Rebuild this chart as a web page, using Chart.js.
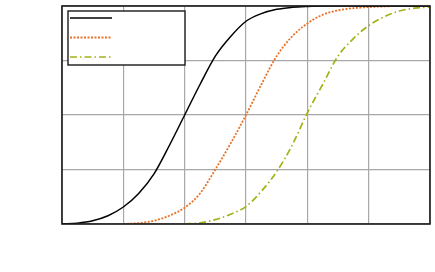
<!DOCTYPE html>
<html>
<head>
<meta charset="utf-8">
<script src="https://cdn.jsdelivr.net/npm/chart.js@4.4.1/dist/chart.umd.min.js"></script>
<style>
  html,body{margin:0;padding:0;background:#fff;}
  #wrap{width:435px;height:272px;}
</style>
</head>
<body>
<div id="wrap"><canvas id="chart" width="435" height="272"></canvas></div>
<script>
// x positions (step 0.25 from 0 to 6)
const xs = [0,0.25,0.5,0.75,1,1.25,1.5,1.75,2,2.25,2.5,2.75,3,3.25,3.5,3.75,4,4.25,4.5,4.75,5,5.25,5.5,5.75,6];

// values (null = curve not drawn there)
const blackVals  = [0,0.004,0.015,0.038,0.078,0.14,0.23,0.36,0.50,0.64,0.77,0.86,0.93,0.965,0.985,0.994,0.998,1,1,1,1,1,1,1,1];
const orangeVals = [null,null,null,null,0,0.004,0.015,0.038,0.075,0.14,0.25,0.37,0.50,0.64,0.77,0.86,0.92,0.96,0.98,0.99,0.995,0.998,1,1,1];
const greenVals  = [null,null,null,null,null,null,null,null,0,0.005,0.02,0.045,0.08,0.15,0.24,0.36,0.51,0.64,0.77,0.85,0.91,0.95,0.977,0.99,0.995];

const xTicks = [0,1,2,3,4,5,6];
const yTicks = [0,0.25,0.5,0.75,1];

function pts(vals){
  return xs.map((x,i)=> vals[i]==null ? null : { x, y: vals[i] }).filter(Boolean);
}

// frame + legend box drawn on top of the chart area
const framePlugin = {
  id: 'frame',
  afterDraw(chart){
    const { ctx, chartArea: a } = chart;
    ctx.save();
    ctx.strokeStyle = '#1a1a1a';
    ctx.lineWidth = 1.6;
    ctx.strokeRect(a.left, a.top, a.right-a.left, a.bottom-a.top);

    // legend
    const lx = a.left+6, ly = a.top+5, lw = 117, lh = 54;
    ctx.fillStyle = '#fff';
    ctx.fillRect(lx, ly, lw, lh);
    ctx.lineWidth = 1.4;
    ctx.strokeRect(lx, ly, lw, lh);
    chart.data.datasets.forEach((ds,i)=>{
      const y = ly + 7 + i*19.5;
      ctx.beginPath();
      ctx.strokeStyle = ds.borderColor;
      ctx.lineWidth = ds.borderWidth;
      ctx.setLineDash(ds.borderDash || []);
      ctx.moveTo(lx+2, y);
      ctx.lineTo(lx+44, y);
      ctx.stroke();
    });
    ctx.restore();
  }
};

new Chart(document.getElementById('chart'), {
  type: 'line',
  data: {
    datasets: [
      { data: pts(blackVals),  borderColor: '#000000', borderWidth: 1.5, pointRadius: 0, cubicInterpolationMode: 'monotone' },
      { data: pts(orangeVals), borderColor: '#ea7128', borderWidth: 1.8, borderDash: [2,1.5], pointRadius: 0, cubicInterpolationMode: 'monotone' },
      { data: pts(greenVals),  borderColor: '#a3b214', borderWidth: 1.7, borderDash: [7,3,1.5,3], pointRadius: 0, cubicInterpolationMode: 'monotone' }
    ]
  },
  options: {
    responsive: false,
    animation: false,
    layout: { padding: { left: 62, top: 6, right: 5, bottom: 48 } },
    plugins: { legend: { display: false }, tooltip: { enabled: false } },
    scales: {
      x: {
        type: 'linear', min: 0, max: 6,
        afterBuildTicks: (s)=>{ s.ticks = xTicks.map(v=>({ value: v })); },
        ticks: { display: false },
        grid: { color: '#a8a8a8', lineWidth: 1.2, drawTicks: false },
        border: { display: false }
      },
      y: {
        min: 0, max: 1,
        afterBuildTicks: (s)=>{ s.ticks = yTicks.map(v=>({ value: v })); },
        ticks: { display: false },
        grid: { color: '#a8a8a8', lineWidth: 1.2, drawTicks: false },
        border: { display: false }
      }
    }
  },
  plugins: [framePlugin]
});
</script>
</body>
</html>
